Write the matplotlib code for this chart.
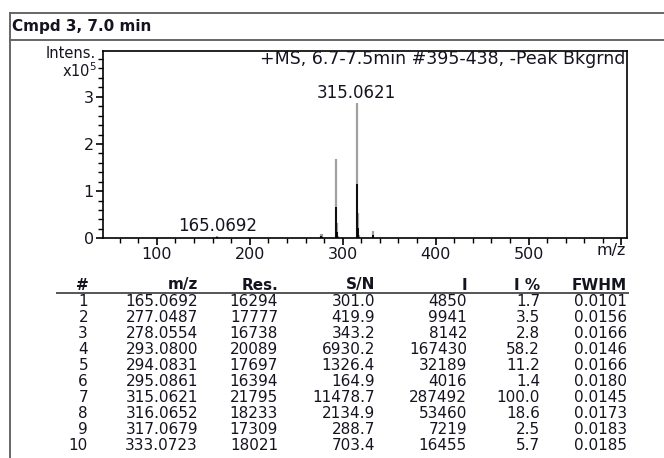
import matplotlib.pyplot as plt
from matplotlib.lines import Line2D
from matplotlib.ticker import MultipleLocator, FixedLocator

plt.rcParams['font.family'] = ['DejaVu Sans']

# peak table
peak_no = [1, 2, 3, 4, 5, 6, 7, 8, 9, 10]
mz = [165.0692, 277.0487, 278.0554, 293.0800, 294.0831,
      295.0861, 315.0621, 316.0652, 317.0679, 333.0723]
res = [16294, 17777, 16738, 20089, 17697, 16394, 21795, 18233, 17309, 18021]
sn = [301.0, 419.9, 343.2, 6930.2, 1326.4, 164.9, 11478.7, 2134.9, 288.7, 703.4]
inten = [4850, 9941, 8142, 167430, 32189, 4016, 287492, 53460, 7219, 16455]
inten_pct = [1.7, 3.5, 2.8, 58.2, 11.2, 1.4, 100.0, 18.6, 2.5, 5.7]
fwhm = [0.0101, 0.0156, 0.0166, 0.0146, 0.0166, 0.0180, 0.0145, 0.0173, 0.0183, 0.0185]
labelled = [165.0692, 315.0621]

W, H = 664, 458
fig = plt.figure(figsize=(W / 100, H / 100), dpi=100)

def px(x, y):
    return x / W, 1 - y / H

txt = '#141420'

# outer frame
fig.add_artist(Line2D([10 / W, 10 / W], [0, 1 - 13 / H], transform=fig.transFigure, color='#666666', lw=1.4))
fig.add_artist(Line2D([10 / W, 1], [1 - 13 / H, 1 - 13 / H], transform=fig.transFigure, color='#666666', lw=1.4))
fig.add_artist(Line2D([10 / W, 1], [1 - 40 / H, 1 - 40 / H], transform=fig.transFigure, color='#666666', lw=1.4))
fig.text(*px(12, 27), 'Cmpd 3, 7.0 min', fontsize=11, fontweight='bold', color=txt, va='center')

# spectrum
ax = fig.add_axes([103 / W, (H - 238.3) / H, (627 - 103) / W, (238.3 - 51) / H])
ax.vlines(mz, 0, inten, color='#a0a0a0', lw=1.6)
ax.vlines(mz, 0, [v * 0.4 for v in inten], color='black', lw=1.3)
ax.set_xlim(42, 606)
ax.set_ylim(0, 3.97e5)

ax.xaxis.set_major_locator(FixedLocator([100, 200, 300, 400, 500, 600]))
ax.xaxis.set_minor_locator(MultipleLocator(20))
ax.set_xticklabels(['100', '200', '300', '400', '500', ''])
ax.yaxis.set_major_locator(FixedLocator([0, 1e5, 2e5, 3e5]))
ax.yaxis.set_minor_locator(MultipleLocator(0.2e5))
ax.set_yticklabels(['0', '1', '2', '3'])
ax.tick_params(which='major', length=5, width=1.2, labelsize=11.5, colors='black', labelcolor=txt, pad=1.5)
ax.tick_params(which='minor', length=3.5, width=1.0, colors='black')
for s in ax.spines.values():
    s.set_linewidth(1.2)

for m in labelled:
    v = inten[mz.index(m)]
    ax.text(m, v + 0.02e5, f'{m:.4f}', ha='center', va='bottom', fontsize=12, color=txt)

fig.text(*px(625, 59), '+MS, 6.7-7.5min #395-438, -Peak Bkgrnd', ha='right', va='center', fontsize=12.5, color=txt)
fig.text(*px(96, 54), 'Intens.', ha='right', va='center', fontsize=10.5, color=txt)
fig.text(*px(97, 71), 'x10$^5$', ha='right', va='center', fontsize=10.5, color=txt)
fig.text(*px(626, 250), 'm/z', ha='right', va='center', fontsize=11.5, color=txt)

# table
cols = [
    ('#', 88, [str(n) for n in peak_no]),
    ('m/z', 198, [f'{v:.4f}' for v in mz]),
    ('Res.', 278, [str(v) for v in res]),
    ('S/N', 375, [f'{v:.1f}' for v in sn]),
    ('I', 467, [str(v) for v in inten]),
    ('I %', 540, [f'{v:.1f}' for v in inten_pct]),
    ('FWHM', 627, [f'{v:.4f}' for v in fwhm]),
]
head_y = 285
row0, step = 301, 16.1
for head, xr, vals in cols:
    hx = 82 if head == '#' else xr
    ha = 'center' if head == '#' else 'right'
    fig.text(*px(hx, head_y), head, ha=ha, va='center', fontsize=11, fontweight='bold', color=txt)
    for i, s in enumerate(vals):
        fig.text(*px(xr, row0 + i * step), s, ha='right', va='center', fontsize=11, color=txt)

fig.add_artist(Line2D([57 / W, 628 / W], [1 - 292.7 / H] * 2, transform=fig.transFigure, color='#555555', lw=1.4))

fig.savefig('out.png', dpi=100)
